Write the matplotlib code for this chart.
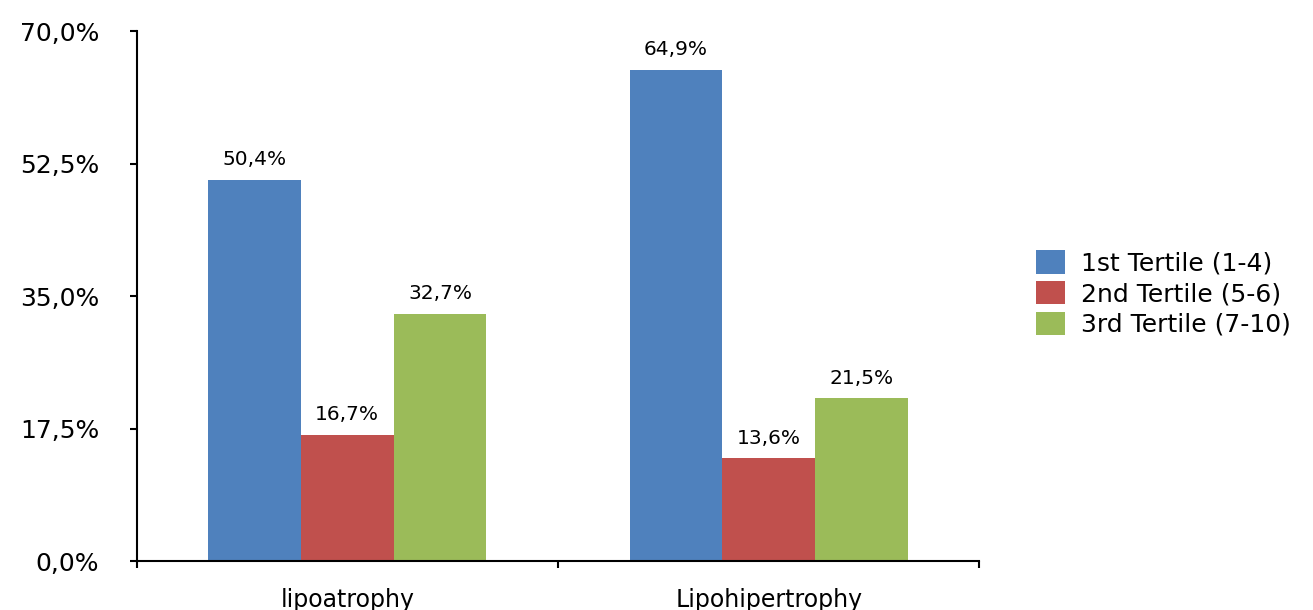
import numpy as np
import matplotlib.pyplot as plt
from matplotlib.ticker import FuncFormatter

# data
categories = ['lipoatrophy', 'Lipohipertrophy']
series = ['1st Tertile (1-4)', '2nd Tertile (5-6)', '3rd Tertile (7-10)']
tertile1 = [50.4, 64.9]
tertile2 = [16.7, 13.6]
tertile3 = [32.7, 21.5]
yticks = [0, 17.5, 35, 52.5, 70]

colors = ['#4F81BD', '#C0504D', '#9BBB59']

fig = plt.figure(figsize=(13.13, 6.10), dpi=100)
ax = fig.add_axes([0.104, 0.080, 0.642, 0.869])

x = np.arange(len(categories))
width = 0.22
offsets = [-width, 0, width]

for vals, off, col, name in zip([tertile1, tertile2, tertile3], offsets, colors, series):
    bars = ax.bar(x + off, vals, width, color=col, label=name)
    for b, v in zip(bars, vals):
        ax.text(b.get_x() + b.get_width() / 2, v + 1.4, f'{v:.1f}%'.replace('.', ','),
                ha='center', va='bottom', fontsize=14.5, color='black')

ax.set_xlim(-0.5, 1.5)
ax.set_ylim(0, 70)
ax.set_yticks(yticks)
ax.yaxis.set_major_formatter(FuncFormatter(lambda v, p: f'{v:.1f}%'.replace('.', ',')))
ax.tick_params(axis='y', labelsize=18, length=5, width=1.5, pad=22, colors='black')

# category boundaries get the tick marks, names sit in between
ax.set_xticks([-0.5, 0.5, 1.5])
ax.set_xticklabels([])
ax.set_xticks(x, minor=True)
ax.set_xticklabels(categories, minor=True, fontsize=17)
ax.tick_params(axis='x', which='major', length=5, width=1.5)
ax.tick_params(axis='x', which='minor', length=0, pad=19)

for s in ['top', 'right']:
    ax.spines[s].set_visible(False)
for s in ['left', 'bottom']:
    ax.spines[s].set_linewidth(1.5)

ax.legend(loc='center left', bbox_to_anchor=(1.055, 0.505), frameon=False, fontsize=18,
          handlelength=1.15, handleheight=1.05, handletextpad=0.65, labelspacing=0.22,
          borderaxespad=0)

fig.savefig('out.png', dpi=100)
